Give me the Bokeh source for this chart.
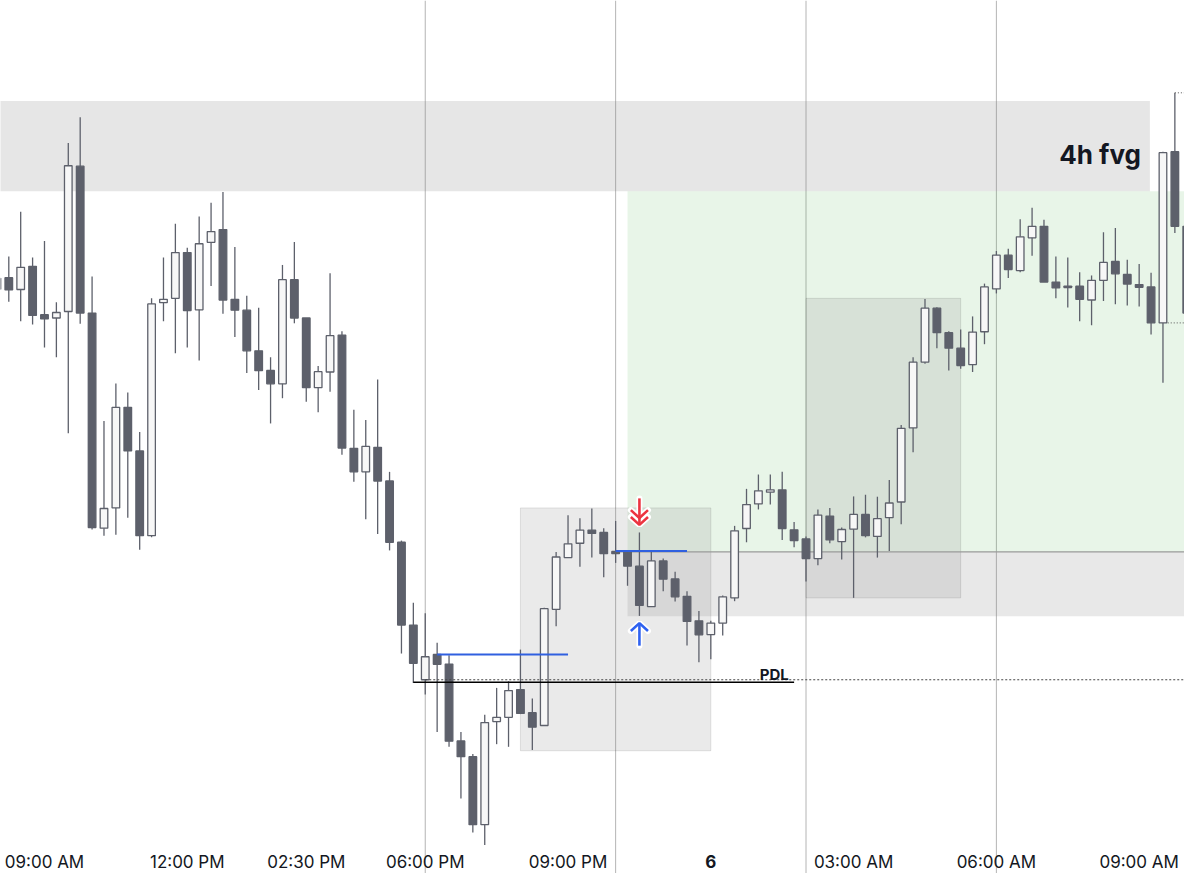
from bokeh.plotting import figure
from bokeh.models import Range1d, ColumnDataSource
from bokeh.core.properties import value
from bokeh.embed import file_html
from bokeh.resources import INLINE

# ---------------- data (15-minute bars, x = bar index) ----------------
bars = list(range(-1, 100))
opens = [20606, 20606.7, 20594.7, 20618.3, 20569, 20565.7, 20572.3, 20720.3, 20570.7, 20351.7,
         20372.3, 20474.7, 20430.3, 20344, 20581.3, 20585.7, 20632.3, 20574, 20642.7, 20655.7,
         20584.7, 20573.7, 20532.3, 20512.3, 20498.7, 20604.7, 20565.7, 20494.7, 20510.7, 20548.3,
         20433, 20409, 20434, 20399.7, 20337.3, 20253, 20197.3, 20223, 20213.3, 20135,
         20119, 20049.7, 20154.7, 20159, 20187.3, 20163.7, 20150.7, 20269, 20321.7, 20336.3,
         20349.7, 20347.3, 20328, 20327.3, 20313, 20271.7, 20318.3, 20300, 20282.3, 20257.3,
         20243.3, 20255, 20280.7, 20351.3, 20376.3, 20388.3, 20390.7, 20350, 20340.7, 20320.7,
         20364, 20338, 20350.7, 20365.7, 20343.3, 20362.3, 20378.3, 20453.7, 20520.7, 20575.7,
         20550.7, 20535, 20518.3, 20551.7, 20595.3, 20629.7, 20614, 20647.3, 20659, 20602.3,
         20598, 20598, 20584, 20604, 20623.3, 20610, 20599.7, 20597.3, 20560.7, 20735,
         20659]
highs = [20610, 20628.3, 20674, 20627.3, 20644, 20581.7, 20744, 20770, 20608, 20460.7,
         20499, 20489.7, 20449.7, 20585.7, 20627.3, 20661.7, 20637.3, 20669, 20683, 20694,
         20638, 20588.3, 20576, 20525.7, 20619.7, 20643, 20565.7, 20516.7, 20611.3, 20552.3,
         20472.3, 20461.7, 20503, 20409, 20339, 20275.7, 20265, 20235, 20222.3, 20144,
         20121.7, 20161.7, 20189, 20195.7, 20228, 20178.3, 20270.7, 20327.3, 20364.7, 20361.7,
         20371.7, 20351.7, 20359, 20329, 20347.3, 20327.3, 20320.7, 20307.3, 20287.3, 20267.3,
         20257.3, 20283, 20354, 20391.7, 20406.3, 20406.3, 20409, 20358, 20343.3, 20370.7,
         20372.3, 20352.3, 20384, 20385.7, 20383.7, 20400.7, 20456.7, 20525.7, 20585, 20576.7,
         20552.3, 20554, 20567.3, 20600.7, 20634, 20636.3, 20666.3, 20678, 20665.7, 20628.3,
         20627.3, 20612.3, 20609, 20653, 20657.3, 20625, 20620.7, 20611.7, 20735, 20795,
         20661]
lows = [20591, 20582.3, 20562.3, 20559, 20535.7, 20525.7, 20448.3, 20559.7, 20350.3, 20344,
        20345, 20362.3, 20329.7, 20342.3, 20562.3, 20529.7, 20535.7, 20522.3, 20598.3, 20570,
        20546.3, 20509.7, 20492.3, 20458.3, 20484, 20560.3, 20480.3, 20469.7, 20490.7, 20426.3,
        20399, 20360.7, 20345.7, 20329, 20224, 20194, 20182.3, 20144, 20129, 20076.3,
        20041.7, 20029, 20131.7, 20129, 20162.3, 20125.7, 20150.7, 20251.7, 20321.7, 20312.3,
        20321.7, 20301.7, 20316.3, 20293, 20262.3, 20271.7, 20287.3, 20277, 20232.3, 20215,
        20218.3, 20242.3, 20277.3, 20337.3, 20370.7, 20375.7, 20339.7, 20332.3, 20297.3, 20314,
        20336.3, 20319.7, 20280.7, 20342.3, 20321.7, 20328.3, 20355.7, 20429, 20519, 20535,
        20512.3, 20514, 20510.7, 20539, 20590.7, 20606.3, 20612.3, 20629, 20602.3, 20585.7,
        20576.3, 20562.3, 20558.3, 20583, 20579.7, 20578.3, 20577.3, 20549, 20499.7, 20652.3,
        20501]
closes = [20595, 20594.3, 20617.3, 20568.3, 20564.7, 20571.3, 20720.7, 20570.7, 20352.3, 20371.7,
          20474.7, 20430.3, 20344, 20580, 20584.7, 20632.3, 20573.3, 20641.3, 20653.7, 20584,
          20573.7, 20532.3, 20512, 20498.7, 20604.7, 20565.7, 20494.7, 20511, 20547.7, 20433.3,
          20409, 20435, 20399.7, 20337.3, 20253, 20214, 20220.7, 20213, 20134.7, 20119,
          20049.7, 20153.7, 20159, 20186.3, 20163, 20149, 20269.7, 20322.3, 20335.7, 20349.7,
          20346.3, 20325.7, 20325.7, 20313, 20273, 20318.3, 20299.7, 20281.7, 20256.7, 20243,
          20255, 20281.7, 20349, 20375.7, 20389.7, 20390.7, 20351.3, 20339, 20320.7, 20365,
          20339.7, 20350.3, 20365.7, 20344, 20361.3, 20377.3, 20453.3, 20520.7, 20575.7, 20550.7,
          20535, 20517.3, 20551.3, 20597.3, 20629.7, 20615, 20648.3, 20659, 20602.3, 20596.3,
          20596.7, 20584.7, 20604, 20622.3, 20610.7, 20600.3, 20597, 20560.7, 20734, 20659,
          20570.7]

tick_bars = [3, 15, 25, 35, 47, 59, 71, 83, 95]
tick_labels = ["09:00 AM", "12:00 PM", "02:30 PM", "06:00 PM", "09:00 PM", "6",
               "03:00 AM", "06:00 AM", "09:00 AM"]
tick_styles = ["normal"] * 5 + ["bold"] + ["normal"] * 3
grid_bars = [35, 51, 67, 83]

# zones: left bar, right bar, top price, bottom price
zone_left = [-2, 52, 52, 43, 67]
zone_right = [95.9, 101, 101, 59, 80]
zone_top = [20786.7, 20694.7, 20327.5, 20372.3, 20585.7]
zone_bottom = [20694.7, 20327.5, 20262, 20125, 20280.7]

pdl_price = 20194.7
pdl_dotted_price = 20197.3
level_price = 20327.5
blue_levels = [20223, 20328.3]
blue_from = [36, 51]
blue_to = [47, 57]
sell_arrow = (53, 20355)
buy_arrow = (53, 20255)

# ---------------- figure ----------------
X0, X1 = -0.697, 98.81
Y0, Y1 = 20000, 20889
p = figure(width=1184, height=873, x_range=Range1d(X0, X1), y_range=Range1d(Y0, Y1),
           x_axis_type=None, y_axis_type=None, output_backend="svg",
           toolbar_location=None, min_border=0)
p.outline_line_color = None
p.background_fill_color = "white"
p.border_fill_color = "white"

# vertical grid lines
p.segment(x0=grid_bars, y0=[Y0] * 4, x1=grid_bars, y1=[Y1] * 4,
          line_color="#b4b4b4", line_width=1)

# zones
zone_src = ColumnDataSource(dict(
    left=zone_left, right=zone_right, top=zone_top, bottom=zone_bottom,
    color=["#808080", "#4caf50", "#808080", "#808080", "#808080"],
    alpha=[0.2, 0.13, 0.18, 0.17, 0.17],
    lalpha=[0, 0, 0, 0.1, 0.1]))
p.quad(left="left", right="right", top="top", bottom="bottom", source=zone_src,
       fill_color="color", fill_alpha="alpha", line_color="black", line_alpha="lalpha",
       line_width=1)

# level line at bottom of green zone
p.segment(x0=[51], y0=[level_price], x1=[101], y1=[level_price],
          line_color="#9a9a9a", line_width=1.3)

# candles
up = [c >= o for o, c in zip(opens, closes)]
src = ColumnDataSource(dict(
    x=bars, high=highs, low=lows,
    top=[max(o, c) for o, c in zip(opens, closes)],
    bottom=[min(o, c) for o, c in zip(opens, closes)],
    fill=["#f7f7f7" if u else "#5d606b" for u in up]))
CANDLE = "#5d606b"
p.segment(x0="x", y0="high", x1="x", y1="low", source=src, line_color=CANDLE, line_width=1.3)
p.vbar(x="x", width=0.64, top="top", bottom="bottom", source=src,
       fill_color="fill", line_color=CANDLE, line_width=1.3)

# PDL lines
p.segment(x0=[35], y0=[pdl_dotted_price], x1=[101], y1=[pdl_dotted_price],
          line_color="#444444", line_width=1, line_dash="2 2")
p.segment(x0=[34], y0=[pdl_price], x1=[66], y1=[pdl_price],
          line_color="black", line_width=1.4)
p.text(x=[65.55], y=[20203], text=["PDL"], text_align="right", text_baseline="alphabetic",
       text_font=value("Inter"), text_font_size="15px", text_font_style="bold",
       text_color="#131722")

# blue levels
p.segment(x0=blue_from, y0=blue_levels, x1=blue_to, y1=blue_levels,
          line_color="#3060e0", line_width=2)

# dotted markers at right edge
p.segment(x0=[98, 97.4], y0=[20795, 20560.7], x1=[101, 101], y1=[20795, 20560.7],
          line_color="#555555", line_width=1, line_dash="1 2")

# label of the 4h gap
p.text(x=[95.15], y=[20732.3], text=["4h fvg"], text_align="right", text_baseline="alphabetic",
       text_font=value("Inter"), text_font_size="26px", text_font_style="bold",
       text_color="#131722")

# arrows
hx = 0.72
sx, st = sell_arrow
red_xs = [[sx, sx], [sx - hx, sx, sx + hx], [sx - hx, sx, sx + hx]]
red_ys = [[st + 27, st + 1], [st + 15, st + 7, st + 15], [st + 8, st, st + 8]]
p.multi_line(xs=red_xs, ys=red_ys, line_color="white", line_width=6, line_cap="round")
p.multi_line(xs=red_xs, ys=red_ys, line_color="#ec3440", line_width=2.6)
bx, bt = buy_arrow
blue_xs = [[bx, bx], [bx - hx, bx, bx + hx]]
blue_ys = [[bt - 1, bt - 23], [bt - 8, bt, bt - 8]]
p.multi_line(xs=blue_xs, ys=blue_ys, line_color="white", line_width=6, line_cap="round")
p.multi_line(xs=blue_xs, ys=blue_ys, line_color="#2f62f0", line_width=2.6)

# time labels along the bottom edge
for style in ("normal", "bold"):
    idx = [i for i, s in enumerate(tick_styles) if s == style]
    p.text(x=[tick_bars[i] for i in idx], y=[20012] * len(idx),
           text=[tick_labels[i] for i in idx], text_align="center",
           text_baseline="alphabetic", text_font=value("Inter"), text_font_size="17px",
           text_font_style=style, text_color="#131722")

open("out.html", "w").write(file_html(p, INLINE))
